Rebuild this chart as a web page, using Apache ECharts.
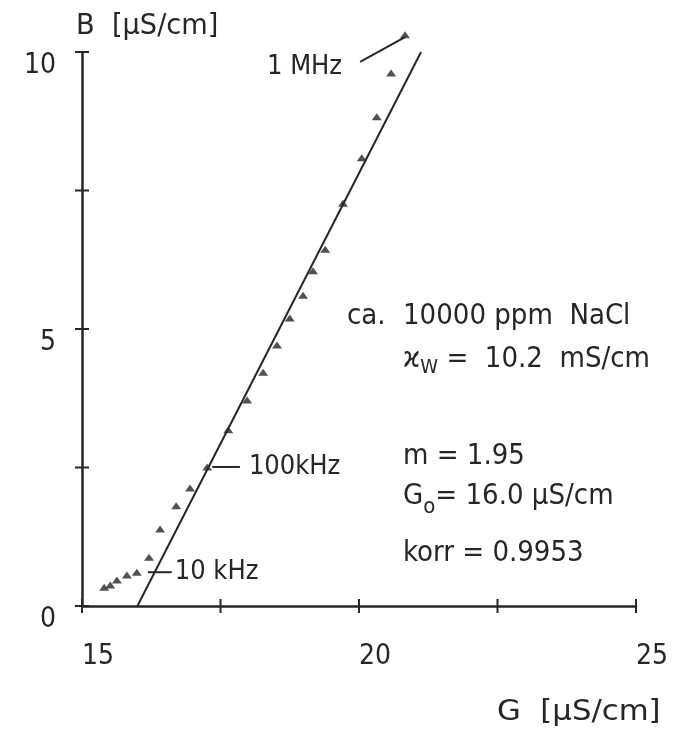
<!DOCTYPE html>
<html>
<head>
<meta charset="utf-8">
<script src="https://cdn.jsdelivr.net/npm/echarts@6/dist/echarts.min.js"></script>
<style>
  html, body { margin: 0; padding: 0; background: #fff; }
  #main { width: 680px; height: 734px; }
</style>
</head>
<body>
<div id="main"></div>
<script>
// Messpunkte (G, B) in µS/cm, von 10 kHz (unten) bis 1 MHz (oben)
const gValues = [15.40, 15.51, 15.63, 15.81, 15.99, 16.21, 16.41, 16.70, 16.95, 17.26,
                 17.64, 17.98, 18.27, 18.52, 18.75, 18.99, 19.17, 19.39, 19.71, 20.05,
                 20.32, 20.58, 20.83];
const bValues = [0.34, 0.38, 0.47, 0.56, 0.61, 0.88, 1.39, 1.81, 2.13, 2.51,
                 3.18, 3.72, 4.22, 4.71, 5.20, 5.61, 6.05, 6.44, 7.27, 8.09,
                 8.83, 9.62, 10.31];

// Ausgleichsgerade
const fitG = [16.0, 21.12];
const fitB = [0, 10];

// Frequenzmarken: Hinweislinien
const mhzLeaderG = [20.02, 20.83];
const mhzLeaderB = [9.82, 10.27];
const khz100LeaderG = [17.35, 17.85];
const khz100LeaderB = [2.51, 2.51];
const khz10LeaderG = [16.19, 16.62];
const khz10LeaderB = [0.61, 0.61];

const xTicks = [15, 17.5, 20, 22.5, 25];
const yTicks = [0, 2.5, 5, 7.5, 10];
const xLabels = ['15', '', '20', '', '25'];
const yLabels = ['0', '', '5', '', '10'];

const ink = '#262626';
const fnt = '"DejaVu Sans Condensed", "DejaVu Sans", sans-serif';

function pairs(xs, ys) {
  return xs.map((x, i) => [x, ys[i]]);
}

function leader(name, xs, ys, idx, pos, dist, text, off) {
  return {
    name: name,
    type: 'line',
    symbol: 'circle',
    symbolSize: 0,
    clip: false,
    lineStyle: { color: ink, width: 2 },
    itemStyle: { color: ink },
    data: pairs(xs, ys).map((p, i) => i === idx ? {
      value: p,
      label: { show: true, position: pos, distance: dist, offset: off, formatter: text, color: ink, fontFamily: fnt, fontSize: 27 }
    } : p)
  };
}

// Teilstriche, die die Achse kreuzen
function crossTicks(name, data, vertical) {
  return {
    name: name,
    type: 'custom',
    clip: false,
    silent: true,
    data: data,
    renderItem: function (params, api) {
      const p = api.coord([api.value(0), api.value(1)]);
      const shape = vertical
        ? { x1: p[0], y1: p[1] - 7, x2: p[0], y2: p[1] + 7 }
        : { x1: p[0] - 7, y1: p[1], x2: p[0] + 7, y2: p[1] };
      return { type: 'line', shape: shape, style: { stroke: ink, lineWidth: 2 } };
    }
  };
}

var dom = document.getElementById('main');
var myChart = echarts.init(dom);
var option;

option = {
  animation: false,
  grid: { left: 82, right: 44, top: 52, bottom: 128 },
  xAxis: {
    type: 'value', min: 15, max: 25, interval: 2.5,
    axisLine: { lineStyle: { color: ink, width: 2.5 } },
    axisTick: { show: false },
    splitLine: { show: false },
    axisLabel: {
      margin: 37, color: ink, fontFamily: fnt, fontSize: 28, align: 'left',
      formatter: v => xLabels[xTicks.indexOf(v)] || ''
    }
  },
  yAxis: {
    type: 'value', min: 0, max: 10, interval: 2.5,
    axisLine: { lineStyle: { color: ink, width: 2.5 } },
    axisTick: { show: false },
    splitLine: { show: false },
    axisLabel: {
      margin: 26, color: ink, fontFamily: fnt, fontSize: 28, verticalAlign: 'top',
      formatter: v => yLabels[Math.round(v / 2.5)] || ''
    }
  },
  graphic: [{
    type: 'text', left: 76, top: 13, scaleX: 1.08,
    style: { text: 'B  [µS/cm]', font: '28px ' + fnt, fill: ink }
  }, {
    type: 'text', left: 497, top: 699, scaleX: 1.22,
    style: { text: 'G  [µS/cm]', font: '28px ' + fnt, fill: ink }
  }, {
    type: 'text', left: 347, top: 302,
    style: { text: 'ca.', font: '29px ' + fnt, fill: ink }
  }, {
    type: 'text', left: 403, top: 302,
    style: { text: '10000 ppm  NaCl', font: '29px ' + fnt, fill: ink }
  }, {
    type: 'text', left: 403, top: 345,
    style: {
      text: '{k|ϰ}{s|W}{k| =  10.2  mS/cm}',
      rich: {
        k: { fontFamily: fnt, fontSize: 29, fill: ink },
        s: { fontFamily: fnt, fontSize: 20, fill: ink, padding: [16, 0, 0, 0] }
      }
    }
  }, {
    type: 'text', left: 403, top: 442,
    style: { text: 'm = 1.95', font: '29px ' + fnt, fill: ink }
  }, {
    type: 'text', left: 403, top: 482,
    style: {
      text: '{k|G}{s|o}{k|= 16.0 µS/cm}',
      rich: {
        k: { fontFamily: fnt, fontSize: 29, fill: ink },
        s: { fontFamily: fnt, fontSize: 22, fill: ink, padding: [22, 0, 0, 0] }
      }
    }
  }, {
    type: 'text', left: 403, top: 539,
    style: { text: 'korr = 0.9953', font: '29px ' + fnt, fill: ink }
  }],
  series: [
    crossTicks('xticks', xTicks.map(v => [v, 0]), true),
    crossTicks('yticks', yTicks.map(v => [15, v]), false),
    {
      name: 'fit',
      type: 'line',
      data: pairs(fitG, fitB),
      symbol: 'none',
      clip: false,
      lineStyle: { color: ink, width: 2 }
    }, {
      name: 'messwerte',
      type: 'scatter',
      data: pairs(gValues, bValues),
      symbol: 'triangle',
      symbolSize: [10, 7],
      clip: false,
      itemStyle: { color: ink }
    },
    leader('1 MHz', mhzLeaderG, mhzLeaderB, 0, 'left', 18, '1 MHz', [0, 5]),
    leader('100 kHz', khz100LeaderG, khz100LeaderB, 1, 'right', 9, '100kHz', [0, 0]),
    leader('10 kHz', khz10LeaderG, khz10LeaderB, 1, 'right', 3, '10 kHz', [0, 0])
  ]
};

if (option && typeof option === 'object') {
  myChart.setOption(option);
}
</script>
</body>
</html>
